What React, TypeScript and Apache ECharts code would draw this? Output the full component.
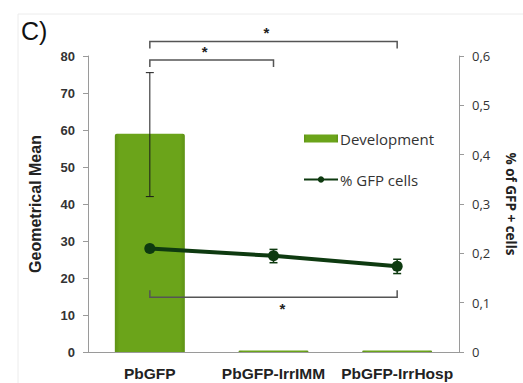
import React, { useEffect, useRef } from "react";
import * as echarts from "echarts";

const categories = ["PbGFP", "PbGFP-IrrIMM", "PbGFP-IrrHosp"];
const developmentValues = [59, 0.4, 0.4];
const developmentErrLow = [42, 0.4, 0.4];
const developmentErrHigh = [75.5, 0.4, 0.4];
const gfpValues = [0.21, 0.195, 0.174];
const gfpErrLow = [0.205, 0.181, 0.159];
const gfpErrHigh = [0.215, 0.208, 0.188];
const leftTicks = { min: 0, max: 80, interval: 10 };
const rightTicks = { min: 0, max: 0.6, interval: 0.1 };
// brackets: [fromCategory, toCategory, leftAxisValue, direction (1 = ticks down, -1 = ticks up)]
const brackets = [
  [0, 2, 83.9, 1],
  [0, 1, 78.9, 1],
  [0, 2, 14.8, -1],
];

export default function App() {
  const ref = useRef<HTMLDivElement>(null);
  useEffect(() => {
    if (!ref.current) return;
    const chart = echarts.init(ref.current, null, { renderer: "svg" });
    const barColor = new echarts.graphic.LinearGradient(0, 0, 1, 0, [
      { offset: 0, color: "#5e9215" },
      { offset: 0.07, color: "#6ba41a" },
      { offset: 0.93, color: "#6ba41a" },
      { offset: 1, color: "#5e9215" },
    ]);
    const errRender = (color: string, width: number, cap: number) => (params: any, api: any) => {
      const x = api.value(0);
      const lo = api.coord([x, api.value(1)]);
      const hi = api.coord([x, api.value(2)]);
      const style = { stroke: color, lineWidth: width };
      return {
        type: "group",
        children: [
          { type: "line", shape: { x1: lo[0], y1: lo[1], x2: hi[0], y2: hi[1] }, style },
          { type: "line", shape: { x1: hi[0] - cap, y1: hi[1], x2: hi[0] + cap, y2: hi[1] }, style },
          { type: "line", shape: { x1: lo[0] - cap, y1: lo[1], x2: lo[0] + cap, y2: lo[1] }, style },
        ],
      };
    };
    chart.setOption({
      animation: false,
      backgroundColor: "#fff",
      title: {
        text: "C)",
        left: 16,
        top: 13,
        textStyle: { fontFamily: "Liberation Sans", fontSize: 25, fontWeight: "normal", color: "#111" },
      },
      graphic: [
        {
          type: "rect",
          shape: { x: 18, y: 14, width: 620, height: 420 },
          style: { fill: "none", stroke: "#ececec", lineWidth: 1 },
          silent: true,
          z: -1,
        },
      ],
      legend: {
        left: 298,
        top: 126,
        orient: "vertical",
        itemGap: 26,
        itemWidth: 34,
        itemHeight: 8,
        data: [
          { name: "Development", icon: "rect" },
          { name: "% GFP cells" },
        ],
        textStyle: { fontFamily: "Open Sans", fontSize: 15, color: "#333", padding: [0, 0, 0, -3] },
      },
      grid: { left: 88, right: 64, top: 56, bottom: 31, outerBoundsMode: "none", containLabel: false },
      xAxis: {
        type: "category",
        data: categories,
        axisLine: { lineStyle: { color: "#9a9a9a", width: 1 } },
        axisTick: { show: false },
        axisLabel: {
          interval: 0,
          hideOverlap: false,
          fontFamily: "Liberation Sans",
          fontWeight: "bold",
          fontSize: 15.5,
          color: "#222",
          margin: 13,
        },
      },
      yAxis: [
        {
          type: "value",
          ...leftTicks,
          name: "Geometrical Mean",
          nameLocation: "middle",
          nameGap: 45,
          nameTextStyle: { fontFamily: "Liberation Sans", fontWeight: "bold", fontSize: 16, color: "#222" },
          axisLine: { show: true, lineStyle: { color: "#9a9a9a" } },
          axisTick: { show: true, length: 5, lineStyle: { color: "#9a9a9a" } },
          splitLine: { show: false },
          axisLabel: {
            fontFamily: "Liberation Sans",
            fontWeight: "bold",
            fontSize: 13,
            color: "#333",
            margin: 13,
          },
        },
        {
          type: "value",
          ...rightTicks,
          position: "right",
          name: "% of GFP + cells",
          nameLocation: "middle",
          nameGap: 45,
          nameRotate: -90,
          nameTextStyle: { fontFamily: "Open Sans", fontWeight: "bold", fontSize: 13.5, color: "#222" },
          axisLine: { show: true, lineStyle: { color: "#9a9a9a" } },
          axisTick: { show: true, length: 5, lineStyle: { color: "#9a9a9a" } },
          splitLine: { show: false },
          axisLabel: {
            fontFamily: "Open Sans",
            fontSize: 13,
            color: "#333",
            margin: 13,
            formatter: (v: number) => (v === 0 ? "0" : v.toFixed(1).replace(".", ",")),
          },
        },
      ],
      series: [
        {
          name: "Development",
          type: "bar",
          data: developmentValues,
          barWidth: 70,
          itemStyle: { color: barColor, borderRadius: [2, 2, 0, 0] },
          z: 1,
        },
        {
          name: "devErr",
          type: "custom",
          yAxisIndex: 0,
          data: developmentValues
            .map((v, i) => [i, developmentErrLow[i], developmentErrHigh[i], v])
            .filter((d) => d[2] - d[1] > 1),
          renderItem: errRender("#1a1a1a", 1, 4),
          z: 3,
          clip: false,
          silent: true,
        },
        {
          name: "% GFP cells",
          type: "line",
          yAxisIndex: 1,
          data: gfpValues,
          lineStyle: { color: "#0e3a10", width: 4 },
          itemStyle: { color: "#0e3a10" },
          symbol: "circle",
          symbolSize: 11,
          z: 5,
        },
        {
          name: "gfpErr",
          type: "custom",
          yAxisIndex: 1,
          data: gfpValues.map((v, i) => [i, gfpErrLow[i], gfpErrHigh[i]]),
          renderItem: errRender("#0e3a10", 1.5, 4),
          z: 6,
          clip: false,
          silent: true,
        },
        {
          name: "brackets",
          type: "custom",
          yAxisIndex: 0,
          data: brackets,
          clip: false,
          silent: true,
          z: 4,
          renderItem: (params: any, api: any) => {
            const a = api.coord([api.value(0), api.value(2)]);
            const b = api.coord([api.value(1), api.value(2)]);
            const dir = api.value(3);
            const t = 7 * dir;
            const mid = (a[0] + b[0]) / 2 + (dir > 0 ? -7 : 9);
            return {
              type: "group",
              children: [
                {
                  type: "polyline",
                  shape: { points: [[a[0], a[1] + t], [a[0], a[1]], [b[0], b[1]], [b[0], b[1] + t]] },
                  style: { stroke: "#555", lineWidth: 1.5, fill: "none" },
                },
                {
                  type: "text",
                  x: mid,
                  y: dir > 0 ? a[1] - 9 : a[1] + 11,
                  style: {
                    text: "*",
                    fontFamily: "Liberation Sans",
                    fontWeight: "bold",
                    fontSize: 15,
                    fill: "#222",
                    align: "center",
                    verticalAlign: "middle",
                  },
                },
              ],
            };
          },
        },
      ],
    });
    return () => chart.dispose();
  }, []);
  return <div ref={ref} style={{ width: 523, height: 383, position: "absolute", left: 0, top: 0 }} />;
}
